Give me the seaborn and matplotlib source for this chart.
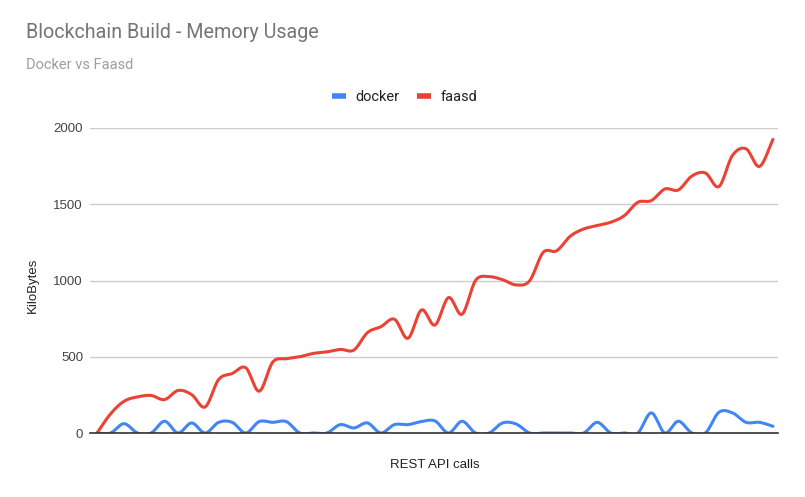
import numpy as np
import pandas as pd
import matplotlib
matplotlib.use("Agg")
import matplotlib.pyplot as plt
import seaborn as sns
from matplotlib.lines import Line2D

# ---- data ----
calls = list(range(51))
docker = [0, 0, 61, 0, 0, 77, 0, 66, 0, 70, 70, 0, 75, 70, 75, 0, 0,
          0, 55, 33, 66, 0, 55, 55, 75, 79, 0, 77, 0, 0, 66, 59, 0, 0,
          0, 0, 0, 70, 0, 0, 0, 132, 0, 77, 0, 0, 136, 132, 70, 70, 44]
faasd = [0, 125, 208, 237, 246, 219, 279, 252, 171, 351, 390, 428, 274, 465, 487, 500, 522,
         532, 548, 544, 658, 697, 746, 621, 807, 708, 888, 779, 1000, 1025, 1005, 971, 998, 1184,
         1195, 1290, 1338, 1360, 1382, 1425, 1513, 1524, 1600, 1594, 1685, 1705, 1616, 1820, 1864, 1748, 1925]
series_names = ["docker", "faasd"]
colors = {"docker": "#4285F4", "faasd": "#EA4335"}
yticks = [0, 500, 1000, 1500, 2000]


def smooth(xs, ys, n=16):
    """Catmull-Rom (cubic Hermite) smoothing through the data points."""
    xs = np.asarray(xs, float)
    ys = np.asarray(ys, float)
    m = np.zeros_like(ys)
    m[1:-1] = (ys[2:] - ys[:-2]) / 2.0
    m[0] = ys[1] - ys[0]
    m[-1] = ys[-1] - ys[-2]
    ox, oy = [], []
    t = np.linspace(0, 1, n, endpoint=False)
    h00 = 2 * t**3 - 3 * t**2 + 1
    h10 = t**3 - 2 * t**2 + t
    h01 = -2 * t**3 + 3 * t**2
    h11 = t**3 - t**2
    for i in range(len(xs) - 1):
        ox.extend(xs[i] + t * (xs[i + 1] - xs[i]))
        oy.extend(h00 * ys[i] + h10 * m[i] + h01 * ys[i + 1] + h11 * m[i + 1])
    ox.append(xs[-1])
    oy.append(ys[-1])
    return np.array(ox), np.array(oy)


rows = []
for name, vals in zip(series_names, [docker, faasd]):
    sx, sy = smooth(calls, vals)
    rows.append(pd.DataFrame({"call": sx, "KiloBytes": sy, "series": name}))
df = pd.concat(rows, ignore_index=True)

sns.set_theme(style="white")
plt.rcParams["font.family"] = ["Liberation Sans", "DejaVu Sans"]

W, H = 805, 497
fig = plt.figure(figsize=(W / 100, H / 100), dpi=100)
L, R, T, B = 90, 778, 128, 433
ax = fig.add_axes([L / W, (H - B) / H, (R - L) / W, (B - T) / H])

sns.lineplot(data=df, x="call", y="KiloBytes", hue="series", palette=colors,
             hue_order=series_names, linewidth=2.2, ax=ax, legend=False,
             estimator=None, sort=False)

px_per = (773 - 97) / 50.0
ax.set_xlim(-(97 - L) / px_per, 50 + (R - 773) / px_per)
ax.set_ylim(0, 2000)
ax.set_yticks(yticks)
ax.set_yticklabels([str(v) for v in yticks], fontsize=9.5, color="#444444")
ax.set_xticks([])
ax.grid(axis="y", color="#cccccc", linewidth=1)
ax.tick_params(axis="y", length=0, pad=5)
for s in ["top", "right", "left"]:
    ax.spines[s].set_visible(False)
ax.spines["bottom"].set_color("#333333")
ax.spines["bottom"].set_linewidth(1.2)
ax.set_axisbelow(True)

ax.set_xlabel("")
ax.set_ylabel("")
fig.text(33 / W, 1 - 285 / H, "KiloBytes", rotation=90, ha="center", va="center",
         fontsize=9.5, color="#222222")
fig.text(435 / W, 1 - 465 / H, "REST API calls", ha="center", va="center",
         fontsize=9.5, color="#222222")

fig.text(26 / W, 1 - 38 / H, "Blockchain Build - Memory Usage", ha="left", va="baseline",
         fontsize=14.2, color="#757575", family=["Roboto", "DejaVu Sans"])
fig.text(26 / W, 1 - 69 / H, "Docker vs Faasd", ha="left", va="baseline",
         fontsize=10.5, color="#9e9e9e", family=["Roboto", "DejaVu Sans"])

handles = [Line2D([0], [0], color=colors[n], linewidth=4, solid_capstyle="butt") for n in series_names]
leg = fig.legend(handles, series_names, loc="center", bbox_to_anchor=(405 / W, 1 - 97 / H),
                 ncol=2, frameon=False, handlelength=0.95, handletextpad=0.65,
                 columnspacing=1.2, prop={"family": ["Roboto", "DejaVu Sans"], "size": 10.5})
for t in leg.get_texts():
    t.set_color("#222222")

fig.savefig("out.png", dpi=100, facecolor="white")
